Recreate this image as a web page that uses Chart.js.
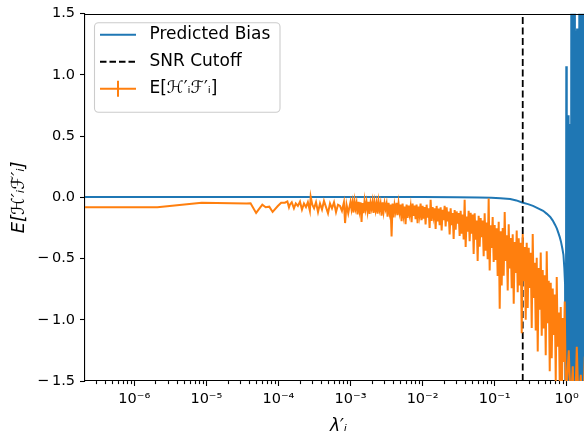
<!DOCTYPE html>
<html><head><meta charset="utf-8">
<script src="https://cdn.jsdelivr.net/npm/chart.js@4.4.1/dist/chart.umd.min.js"></script>
<style>
html,body{margin:0;padding:0;background:#fff;overflow:hidden;width:584px;height:439px}
#wrap{position:relative;width:600px;height:439px}
</style></head>
<body><div id="wrap"><canvas id="c"></canvas></div>
<script>
// ---------- data ----------
const seriesNames = ['Predicted Bias', 'SNR Cutoff', 'E[ℋ′ᵢℱ′ᵢ]'];
const xTitle = 'λ′ᵢ';
const yTitle = 'E[ℋ′ᵢℱ′ᵢ]';

const xMin = 2.07e-7, xMax = 2.24;
const yMin = -1.5, yMax = 1.5;

const xDecades = [1e-7, 1e-6, 1e-5, 1e-4, 1e-3, 1e-2, 1e-1, 1e0];
const xTickLabels = ['10⁻⁷', '10⁻⁶', '10⁻⁵', '10⁻⁴', '10⁻³', '10⁻²', '10⁻¹', '10⁰'];
const xMinorMultipliers = [2, 3, 4, 5, 6, 7, 8, 9];
const yTickValues = [-1.5, -1.0, -0.5, 0.0, 0.5, 1.0, 1.5];
const yTickLabels = ['−\u20091.5', '−\u20091.0', '−\u20090.5', '0.0', '0.5', '1.0', '1.5'];

const snrCutoff = 0.245;

const biasX = [2.07e-7, 1e-5, 1e-3, 1e-2, 0.03, 0.06, 0.09, 0.12, 0.164, 0.2,
  0.24, 0.29, 0.34, 0.4, 0.47, 0.53, 0.59, 0.64, 0.69, 0.73,
  0.765, 0.80, 0.83, 0.87, 0.90, 0.926, 0.947, 0.96, 0.97,
  0.975, 0.985, 0.995, 1.005, 1.018, 1.03, 1.045, 1.06, 1.075, 1.09,
  1.105, 1.12, 1.14, 1.16, 1.18, 1.2, 1.22, 1.24, 1.265, 1.29,
  1.315, 1.34, 1.365, 1.39, 1.415, 1.44, 1.47, 1.5, 1.53, 1.56,
  1.59, 1.62, 1.65, 1.68, 1.71, 1.74, 1.77, 1.8, 1.84, 1.88,
  1.92, 1.96, 2.0, 2.05, 2.1, 2.15, 2.2, 2.25];
const biasY = [0.003, 0.003, 0.003, 0.002, 0.0, -0.002, -0.004, -0.007, -0.013, -0.025,
  -0.042, -0.055, -0.07, -0.09, -0.11, -0.135, -0.16, -0.19, -0.225, -0.255,
  -0.29, -0.325, -0.36, -0.42, -0.47, -0.58, -0.71, -0.9, -1.3,
  -2.6, 1.07, -2.8, 0.3, -2.5, 0.5, -2.9, 0.67, -2.2, 0.6,
  -3, 0.45, -2.7, 2.8, -3, 3, -2.4, 2.6, -3, 3.1,
  -2.8, 1.36, -3, 1.38, -2.5, 1.35, -3, 3, -2.7, 2.9,
  -3, 2.5, -2.6, 3, -3, 2.8, -2.9, 3, -3, 2.7,
  -3, 3, -2.8, 3, -3, 2.6, -3, 3];

// measured E[H'F'] points, below 1e-3
const orangeXLow = [
  2.07e-7, 2.09e-6, 8.6e-6, 3.6e-5, 4.1e-5, 4.9e-5, 5.97e-5, 6.65e-5, 7.46e-5, 8.3e-5,
  9.8e-5, 1.09e-4, 1.23e-4, 1.33e-4, 1.40e-4, 1.44e-4, 1.53e-4, 1.64e-4, 1.74e-4, 1.86e-4,
  1.99e-4, 2.12e-4, 2.26e-4, 2.41e-4, 2.56e-4, 2.73e-4, 2.80e-4, 2.95e-4, 3.12e-4, 3.32e-4,
  3.54e-4, 3.77e-4, 4.02e-4, 4.28e-4, 4.57e-4, 4.87e-4, 5.19e-4, 5.53e-4, 5.90e-4, 6.29e-4,
  6.70e-4, 7.14e-4, 7.6e-4, 8.1e-4, 8.4e-4, 8.8e-4, 9.3e-4, 9.65e-4];
const orangeYLow = [
  -0.08, -0.08, -0.045, -0.05, -0.049, -0.127, -0.06, -0.081, -0.076, -0.119,
  -0.071, -0.044, -0.044, -0.033, -0.081, -0.06, -0.04, -0.09, -0.05, -0.07,
  -0.035, -0.10, -0.05, -0.08, -0.04, -0.11, 0.005, -0.06, -0.09, -0.04,
  -0.12, -0.05, -0.10, -0.03, -0.08, -0.13, -0.05, -0.09, -0.04, -0.12,
  -0.06, -0.07, -0.11, -0.04, -0.21, -0.06, -0.13, -0.08];

// 1e-3 .. 1e-2
const orangeXA = [
  1.000e-3, 1.032e-3, 1.066e-3, 1.100e-3, 1.137e-3, 1.174e-3, 1.212e-3, 1.251e-3, 1.292e-3, 1.334e-3,
  1.377e-3, 1.422e-3, 1.468e-3, 1.516e-3, 1.565e-3, 1.616e-3, 1.669e-3, 1.723e-3, 1.779e-3, 1.837e-3,
  1.896e-3, 1.958e-3, 2.021e-3, 2.087e-3, 2.155e-3, 2.225e-3, 2.297e-3, 2.372e-3, 2.449e-3, 2.528e-3,
  2.610e-3, 2.695e-3, 2.783e-3, 2.873e-3, 2.967e-3, 3.063e-3, 3.163e-3, 3.265e-3, 3.371e-3, 3.481e-3,
  3.594e-3, 3.711e-3, 3.831e-3, 3.956e-3, 4.084e-3, 4.217e-3, 4.354e-3, 4.495e-3, 4.641e-3, 4.792e-3,
  4.948e-3, 5.108e-3, 5.274e-3, 5.446e-3, 5.622e-3, 5.805e-3, 5.994e-3, 6.188e-3, 6.390e-3, 6.597e-3,
  6.811e-3, 7.033e-3, 7.261e-3, 7.497e-3, 7.740e-3, 7.992e-3, 8.251e-3, 8.519e-3, 8.796e-3, 9.082e-3,
  9.377e-3, 9.681e-3];
const orangeYA = [
  -0.036, -0.096, -0.041, -0.124, -0.03, -0.09, -0.046, -0.14, -0.036, -0.107,
  -0.041, -0.20, -0.046, -0.129, -0.03, -0.096, -0.041, -0.113, -0.036, -0.135,
  -0.046, -0.09, -0.035, -0.127, -0.041, -0.104, -0.047, -0.133, -0.035, -0.098,
  -0.052, -0.15, -0.041, -0.116, -0.047, -0.093, -0.052, -0.158, -0.045, -0.12,
  -0.058, -0.32, -0.051, -0.164, -0.064, -0.114, -0.045, -0.145, -0.051, -0.12,
  -0.058, -0.195, -0.05, -0.144, -0.076, -0.22, -0.059, -0.169, -0.067, -0.135,
  -0.076, -0.203, -0.05, -0.152, -0.067, -0.178, -0.059, -0.212, -0.076, -0.144,
  -0.05, -0.186];

// 1e-2 .. 1e-1
const orangeXB = [
  1.000e-2, 1.032e-2, 1.066e-2, 1.100e-2, 1.137e-2, 1.174e-2, 1.212e-2, 1.251e-2, 1.292e-2, 1.334e-2,
  1.377e-2, 1.422e-2, 1.468e-2, 1.516e-2, 1.565e-2, 1.616e-2, 1.669e-2, 1.723e-2, 1.779e-2, 1.837e-2,
  1.896e-2, 1.958e-2, 2.021e-2, 2.087e-2, 2.155e-2, 2.225e-2, 2.297e-2, 2.372e-2, 2.449e-2, 2.528e-2,
  2.610e-2, 2.695e-2, 2.783e-2, 2.873e-2, 2.967e-2, 3.063e-2, 3.163e-2, 3.265e-2, 3.371e-2, 3.481e-2,
  3.594e-2, 3.711e-2, 3.831e-2, 3.956e-2, 4.084e-2, 4.217e-2, 4.354e-2, 4.495e-2, 4.641e-2, 4.792e-2,
  4.948e-2, 5.108e-2, 5.274e-2, 5.446e-2, 5.622e-2, 5.805e-2, 5.994e-2, 6.188e-2, 6.390e-2, 6.597e-2,
  6.811e-2, 7.033e-2, 7.261e-2, 7.497e-2, 7.740e-2, 7.992e-2, 8.251e-2, 8.519e-2, 8.796e-2, 9.082e-2,
  9.377e-2, 9.681e-2];
const orangeYB = [
  -0.07, -0.174, -0.079, -0.222, -0.06, -0.165, -0.089, -0.25, -0.02, -0.193,
  -0.079, -0.155, -0.089, -0.259, -0.07, -0.196, -0.091, -0.228, -0.081, -0.27,
  -0.102, -0.186, -0.07, -0.238, -0.081, -0.196, -0.115, -0.303, -0.09, -0.228,
  -0.128, -0.34, -0.103, -0.265, -0.115, -0.215, -0.128, -0.315, -0.11, -0.296,
  -0.141, -0.343, -0.02, -0.405, -0.157, -0.281, -0.11, -0.358, -0.126, -0.296,
  -0.141, -0.462, -0.13, -0.345, -0.189, -0.52, -0.15, -0.403, -0.169, -0.325,
  -0.189, -0.481, -0.13, -0.436, -0.206, -0.505, -0.01, -0.597, -0.229, -0.413,
  -0.16, -0.528];

// 1e-1 .. 1
const orangeXC = [
  0.1000, 0.1032, 0.1066, 0.1100, 0.1137, 0.1174, 0.1212, 0.1251,
  0.1292, 0.1334, 0.1377, 0.1422, 0.1468, 0.1516, 0.1565, 0.1616,
  0.1669, 0.1723, 0.1779, 0.1837, 0.1896, 0.1958, 0.2021, 0.2087,
  0.2155, 0.2225, 0.2297, 0.2372, 0.2449, 0.2528, 0.2610, 0.2695,
  0.2783, 0.2873, 0.2967, 0.3063, 0.3163, 0.3265, 0.3371, 0.3481,
  0.3594, 0.3711, 0.3831, 0.3956, 0.4084, 0.4217, 0.4354, 0.4495,
  0.4641, 0.4792, 0.4948, 0.5108, 0.5274, 0.5446, 0.5622, 0.5805,
  0.5994, 0.6188, 0.6390, 0.6597, 0.6811, 0.7033, 0.7261, 0.7497,
  0.7740, 0.7992, 0.8251, 0.8519, 0.8796, 0.9082, 0.9377, 0.9681];
const orangeYC = [
  -0.226, -0.512, -0.252, -0.642, -0.2, -0.91, -0.278, -0.72,
  -0.25, -0.64, -0.12, -0.52, -0.31, -0.76, -0.22, -0.58,
  -0.333, -0.743, -0.302, -0.869, -0.365, -0.617, -0.27, -0.774,
  -0.335, -0.72, -0.37, -1.11, -0.3, -0.685, -0.405, -1.0,
  -0.371, -0.904, -0.412, -0.74, -0.453, -1.068, -0.30, -0.822,
  -0.535, -1.088, -0.493, -1.258, -0.578, -0.918, -0.45, -1.13,
  -0.594, -1.072, -0.637, -1.29, -0.44, -1.029, -0.681, -1.42,
  -0.698, -1.315, -0.745, -1.125, -0.793, -1.505, -0.65, -1.22,
  -0.94, -1.525, -0.895, -1.705, -0.985, -1.345, -0.85, -1.57];

// above 1
const orangeXD = [1.000, 1.066, 1.137, 1.212, 1.292, 1.377, 1.468, 1.565, 1.669, 1.779, 1.896, 2.021, 2.155];
const orangeYD = [-1.53, -1.25, -1.71, -1.38, -1.90, -1.22, -1.75, -1.45, -1.86, -1.30, -1.64, -1.41, -1.83];

const orangeX = [...orangeXLow, ...orangeXA, ...orangeXB, ...orangeXC, ...orangeXD];
const orangeY = [...orangeYLow, ...orangeYA, ...orangeYB, ...orangeYC, ...orangeYD];

// ---------- styling ----------
const FONT = 'DejaVu Sans';
const BLUE = '#1f77b4', ORANGE = '#ff7f0e';

function legendSample(kind, color) {
  const c = document.createElement('canvas');
  c.width = 41; c.height = 18;
  const g = c.getContext('2d');
  g.strokeStyle = color; g.lineWidth = 2;
  if (kind === 'dash') g.setLineDash([6.5, 3]);
  g.beginPath(); g.moveTo(0, 9); g.lineTo(36, 9); g.stroke();
  if (kind === 'err') { g.beginPath(); g.moveTo(18, 1); g.lineTo(18, 17); g.stroke(); }
  return c;
}
const samples = [legendSample('line', BLUE), legendSample('dash', '#000'), legendSample('err', ORANGE)];

const framePlugin = {
  id: 'frame',
  afterLayout(chart) {
    const lg = chart.legend, ca = chart.chartArea;
    if (!lg) return;
    lg.left = ca.left + 5; lg.top = ca.top + 2.5;
    lg.right = ca.right; lg.bottom = ca.bottom;
    lg.width = lg.right - lg.left; lg.height = lg.bottom - lg.top;
  },
  beforeDraw(chart) {
    const ca = chart.chartArea, ctx = chart.ctx;
    ctx.save();
    ctx.beginPath();
    ctx.roundRect(ca.left + 9.5, ca.top + 9, 185.5, 89.5, 4);
    ctx.fillStyle = 'rgba(255,255,255,0.8)'; ctx.fill();
    ctx.strokeStyle = '#cccccc'; ctx.lineWidth = 1.1; ctx.stroke();
    ctx.restore();
  },
  afterDraw(chart) {
    const ca = chart.chartArea, ctx = chart.ctx;
    ctx.save();
    ctx.strokeStyle = '#000'; ctx.lineWidth = 1.1;
    ctx.beginPath(); ctx.moveTo(ca.left, Math.round(ca.top) + 0.5); ctx.lineTo(ca.right, Math.round(ca.top) + 0.5); ctx.stroke();
    ctx.restore();
  }
};

new Chart(document.getElementById('c'), {
  type: 'line',
  data: {
    datasets: [
      { label: seriesNames[0], data: biasX.map((x, i) => ({ x, y: biasY[i] })), borderColor: BLUE, borderWidth: 2, pointRadius: 0, order: 3 },
      { label: seriesNames[1], data: [{ x: snrCutoff, y: yMin }, { x: snrCutoff, y: yMax }], borderColor: '#000', borderDash: [7, 3.5], borderWidth: 1.8, pointRadius: 0, order: 2 },
      { label: seriesNames[2], data: orangeX.map((x, i) => ({ x, y: orangeY[i] })), borderColor: ORANGE, borderWidth: 2, pointRadius: 0, order: 1 }
    ]
  },
  options: {
    responsive: true, maintainAspectRatio: false, animation: false, devicePixelRatio: 1,
    layout: { padding: { top: 9, right: 8, left: 0, bottom: 0 } },
    elements: { line: { tension: 0, fill: false } },
    plugins: {
      tooltip: { enabled: false },
      legend: {
        position: 'chartArea', align: 'start',
        labels: {
          usePointStyle: true, pointStyleWidth: 41, padding: 10, color: '#000',
          font: { family: FONT, size: 17 },
          sort: (a, b) => a.datasetIndex - b.datasetIndex,
          generateLabels: (chart) => {
            const items = Chart.defaults.plugins.legend.labels.generateLabels(chart);
            items.forEach(it => { it.pointStyle = samples[it.datasetIndex]; });
            return items;
          }
        }
      }
    },
    scales: {
      x: {
        type: 'logarithmic', min: xMin, max: xMax,
        afterFit: s => { s.height = 58; },
        afterBuildTicks: axis => {
          const t = [];
          xDecades.forEach(d => {
            if (d >= xMin && d <= xMax) t.push({ value: d, major: true });
            xMinorMultipliers.forEach(m => { const v = d * m; if (v >= xMin && v <= xMax) t.push({ value: v, major: false }); });
          });
          t.sort((a, b) => a.value - b.value);
          axis.ticks = t;
        },
        ticks: {
          autoSkip: false, maxRotation: 0, minRotation: 0, padding: 5, color: '#000',
          font: { family: FONT, size: 14.5 },
          callback: (value) => { const i = xDecades.indexOf(value); return i >= 0 ? xTickLabels[i] : ''; }
        },
        grid: {
          drawOnChartArea: false, drawTicks: true, tickLength: 5, tickColor: '#000', tickWidth: 1.1,
          tickBorderDash: (ctx) => (ctx.tick && xDecades.indexOf(ctx.tick.value) >= 0) ? [] : [3, 20]
        },
        border: { display: true, color: '#000', width: 1.1 },
        title: { display: true, text: xTitle, color: '#000', font: { family: FONT, size: 17, style: 'italic' }, padding: { top: 0, bottom: 2 } }
      },
      y: {
        type: 'linear', min: yMin, max: yMax,
        afterFit: s => { s.width = 85; },
        afterBuildTicks: axis => { axis.ticks = yTickValues.map(v => ({ value: v })); },
        ticks: {
          padding: 5, color: '#000', font: { family: FONT, size: 14.5 },
          callback: (value) => { const i = yTickValues.indexOf(value); return i >= 0 ? yTickLabels[i] : ''; }
        },
        grid: { drawOnChartArea: false, drawTicks: true, tickLength: 5, tickColor: '#000', tickWidth: 1.1 },
        border: { display: true, color: '#000', width: 1.1 },
        title: { display: true, text: yTitle, color: '#000', font: { family: FONT, size: 18, style: 'italic' }, padding: { top: 9, bottom: 0 } }
      }
    }
  },
  plugins: [framePlugin]
});
</script>
</body></html>
